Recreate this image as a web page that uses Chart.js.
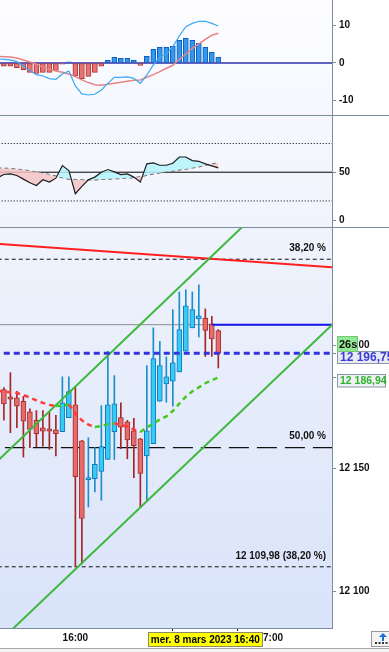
<!DOCTYPE html>
<html>
<head>
<meta charset="utf-8">
<script src="https://cdn.jsdelivr.net/npm/chart.js@4.4.1/dist/chart.umd.min.js"></script>
<style>
  html, body { margin: 0; padding: 0; background: #fff; overflow: hidden; }
  #wrap { position: relative; width: 389px; height: 652px; }
  .pane { position: absolute; left: 0; width: 389px; }
  #p1 { top: 0; height: 115px; }
  #p2 { top: 116px; height: 111px; }
  #p3 { top: 228px; height: 420px; }
  .sep { position: absolute; left: 0; width: 389px; height: 1px; background: #7d8d9c; }
  #foot { position: absolute; left: 0; top: 648px; width: 389px; height: 4px; background: #f3f3f3; border-top: 1px solid #a9a9a9; }
</style>
</head>
<body>
<div id="wrap">
  <div class="pane" id="p1"><canvas id="c1"></canvas></div>
  <div class="sep" style="top:115px"></div>
  <div class="pane" id="p2"><canvas id="c2"></canvas></div>
  <div class="sep" style="top:227px"></div>
  <div class="pane" id="p3"><canvas id="c3"></canvas></div>
  <div id="foot"></div>
</div>
<script>
// 2-minute candles, 8 March 2023
const times = ['15:36','15:38','15:40','15:42','15:44','15:46','15:48','15:50','15:52','15:54',
               '15:56','15:58','16:00','16:02','16:04','16:06','16:08','16:10','16:12','16:14',
               '16:16','16:18','16:20','16:22','16:24','16:26','16:28','16:30','16:32','16:34',
               '16:36','16:38','16:40','16:42','16:44'];
const opens  = [12184.1,12182.0,12179.1,12178.7,12177.2,12173.0,12169.5,12166.5,12166.1,12165.7,
                12164.9,12170.6,12175.8,12161.2,12145.4,12145.8,12148.7,12153.6,12164.9,12170.6,
                12168.9,12165.3,12162.0,12155.0,12160.0,12177.3,12184.3,12185.4,12189.2,12197.6,
                12207.1,12210.7,12211.1,12208.7,12206.0];
const highs  = [12188.5,12182.8,12188.9,12181.3,12179.3,12174.2,12173.5,12173.5,12172.8,12171.5,
                12187.2,12187.2,12183.0,12161.4,12162.4,12158.4,12175.5,12197.6,12187.7,12176.6,
                12169.5,12170.3,12162.2,12191.8,12207.1,12201.6,12195.3,12214.5,12221.7,12222.6,
                12221.7,12224.6,12214.8,12211.8,12206.4];
const lows   = [12175.3,12169.6,12164.5,12166.5,12154.6,12158.4,12158.8,12159.0,12157.7,12155.0,
                12164.9,12170.6,12110.0,12111.1,12134.3,12140.4,12137.0,12153.6,12153.6,12158.0,
                12153.9,12146.2,12134.1,12136.7,12160.0,12177.2,12176.9,12175.3,12189.2,12197.6,
                12207.1,12203.4,12195.5,12195.5,12190.8];
const closes = [12180.0,12176.2,12178.1,12175.3,12169.2,12165.8,12164.1,12165.1,12165.1,12164.1,
                12176.6,12181.2,12146.6,12129.6,12145.7,12151.6,12158.8,12175.8,12176.2,12166.7,
                12161.6,12159.2,12147.9,12165.3,12194.6,12191.8,12187.2,12192.9,12206.4,12216.1,
                12214.5,12212.0,12206.1,12202.6,12196.75];
const movingAvg = [12181.6,12181.1,12180.9,12180.6,12179.8,12178.8,12177.6,12176.6,12175.8,12175.3,
                   12175.5,12176.0,12172.3,12169.5,12167.8,12166.8,12167.2,12167.9,12168.3,12167.6,
                   12167.0,12165.8,12164.8,12166.6,12168.3,12169.8,12171.1,12173.3,12176.3,12179.1,
                   12181.3,12182.9,12184.6,12185.8,12186.94];

// MACD pane
const macdHist   = [-0.8,-0.88,-0.88,-1.24,-1.77,-2.48,-2.74,-2.48,-2.48,-1.95,
                    -0.35,0.27,-3.45,-4.16,-3.54,-2.48,-0.88,0.71,1.5,1.24,
                    1.24,0.71,-0.62,1.77,3.63,4.16,4.16,4.42,6.01,6.54,
                    6.01,5.22,4.16,2.83,1.5];
const macdLine   = [1.1,0.97,0.8,0.35,-0.8,-2.03,-3.1,-3.45,-4.16,-4.33,
                    -2.92,-2.12,-6.1,-8.2,-8.5,-8.3,-7.16,-5.4,-3.8,-3.8,
                    -3.7,-4.07,-5.4,-3.18,-0.53,1.5,2.39,4.33,7.16,9.64,
                    10.5,11.05,11.05,10.5,9.81];
const macdSignal = [1.75,1.68,1.59,1.33,0.8,0.27,-0.35,-1.15,-1.68,-2.12,
                    -2.48,-2.92,-3.63,-4.5,-5.2,-5.75,-5.9,-5.66,-5.4,-5.13,
                    -4.86,-4.6,-4.5,-3.8,-3.1,-2.3,-1.41,-0.62,0.97,2.39,
                    3.89,5.04,6.28,7.34,7.87];

// oscillator pane
const oscLine   = [44.2,47.6,48.3,46.6,42.8,39.0,36.2,42.1,39.7,43.8,
                   56.9,51.8,27.6,35.2,42.1,44.9,50.0,52.8,50.4,47.6,
                   48.3,44.9,39.7,58.7,59.7,57.3,57.3,59.4,65.9,65.9,
                   62.1,61.4,58.7,56.6,54.5];
const oscSignal = [54.2,54.2,53.8,53.1,52.5,51.4,50.4,49.0,47.6,45.9,
                   44.2,42.8,42.4,42.1,42.1,42.1,42.4,42.8,43.1,43.5,
                   43.8,44.5,45.2,46.9,48.3,49.3,50.4,51.4,52.5,53.1,
                   54.5,55.6,57.3,58.7,59.7];
const oscLevels = [20, 80];
const oscMid = 50;

// ticks
const macdTicks  = [-10, 0, 10];
const oscTicks   = [0, 50];
const priceTicks = [12100, 12150, 12200];
const timeTicks  = ['16:00', '17:00'];

// drawings
const fibLevels = [12235.0, 12158.4, 12109.98];
const fibLabels = ['38,20 %', '50,00 %', '12 109,98 (38,20 %)'];
const levelPrice = 12208.4;
const levelFrom = '16:42';
const resistLine = [['15:36', 12241.3], ['17:20', 12231.7]];
const channelUp  = [['15:36', 12152.9], ['16:55', 12252.7]];
const channelLow = [['15:36', 12078.8], ['17:20', 12209.6]];
const lastPrice = 12196.75;
const countdown = '26s';
const cursorTime = '16:40';
const cursorLabel = 'mer. 8 mars 2023 16:40';

const FONT = '"Liberation Sans", Arial, sans-serif';
Chart.defaults.font.family = FONT;
Chart.defaults.font.size = 10;
Chart.defaults.font.weight = 'bold';
Chart.defaults.color = '#111';
Chart.defaults.animation = false;
Chart.defaults.events = [];

const AXIS = '#7d8d9c';
const X_MIN = 936.8, X_MAX = 1039;
const toMin = s => { const p = s.split(':'); return +p[0] * 60 + +p[1]; };
const xs = times.map(toMin);

function fmt(v, dec) {
  const s = dec ? v.toFixed(dec) : String(v);
  const parts = s.split('.');
  return parts[0].replace(/\B(?=(\d{3})+(?!\d))/g, ' ') + (parts[1] ? ',' + parts[1] : '');
}

function hiddenX() {
  return { type: 'linear', min: X_MIN, max: X_MAX, display: false, offset: false };
}
function rightY(min, max, ticks, label) {
  return {
    position: 'right', min: min, max: max,
    grid: { drawOnChartArea: false, tickLength: 4, tickColor: AXIS },
    border: { color: AXIS },
    ticks: { padding: 3, color: '#111', callback: label },
    afterBuildTicks: s => { s.ticks = ticks.map(v => ({ value: v })); },
    afterFit: s => { s.width = 57; s.paddingTop = 0; s.paddingBottom = 0; }
  };
}
function hLine(y, color, width, dash, order, from) {
  return {
    type: 'line', data: [{ x: from == null ? X_MIN - 5 : from, y: y }, { x: X_MAX + 5, y: y }],
    borderColor: color, borderWidth: width, borderDash: dash || [], pointRadius: 0, order: order, clip: 0
  };
}
function segLine(pts, color, width, order) {
  return {
    type: 'line', data: pts.map(p => ({ x: toMin(p[0]), y: p[1] })),
    borderColor: color, borderWidth: width, pointRadius: 0, order: order, clip: 0
  };
}

const bg = {
  id: 'bg',
  beforeDraw(chart, args, o) {
    const { ctx, chartArea: a } = chart;
    const g = ctx.createLinearGradient(0, a.top, 0, a.bottom);
    g.addColorStop(0, o.top);
    g.addColorStop(1, o.bottom);
    ctx.save();
    ctx.fillStyle = g;
    ctx.fillRect(a.left, a.top, a.width, a.height);
    ctx.restore();
  }
};

const baseOpts = (scales, bgTop, bgBottom) => ({
  responsive: false, maintainAspectRatio: false,
  layout: { padding: 0, autoPadding: false },
  plugins: { legend: { display: false }, tooltip: { enabled: false }, bg: { top: bgTop, bottom: bgBottom } },
  scales: scales
});

// ---------- MACD ----------
const c1 = document.getElementById('c1');
c1.width = 389; c1.height = 115;
new Chart(c1, {
  type: 'line',
  data: {
    datasets: [
      { type: 'line', data: xs.map((t, i) => ({ x: t, y: macdLine[i] })), borderColor: '#3aa8f5', borderWidth: 1.2, pointRadius: 0, order: 0, clip: 0 },
      { type: 'line', data: xs.map((t, i) => ({ x: t, y: macdSignal[i] })), borderColor: '#e58585', borderWidth: 1.5, pointRadius: 0, order: 1, clip: 0 },
      { type: 'bar', data: xs.map((t, i) => ({ x: t, y: macdHist[i] })), grouped: false, barThickness: 5,
        backgroundColor: ctx => macdHist[ctx.dataIndex] >= 0 ? '#3497ea' : '#e97373',
        borderColor: ctx => macdHist[ctx.dataIndex] >= 0 ? '#0d5fc0' : '#ad3535',
        borderWidth: 1, borderSkipped: false, order: 2, clip: 0 },
      hLine(0, '#2f2fae', 1.5, null, 3)
    ]
  },
  options: baseOpts({ x: hiddenX(), y: rightY(-13.8, 16.7, macdTicks, v => String(v)) }, '#fdfdff', '#f6f8fe'),
  plugins: [bg]
});

// ---------- oscillator ----------
const c2 = document.getElementById('c2');
c2.width = 389; c2.height = 111;
new Chart(c2, {
  type: 'line',
  data: {
    datasets: [
      { type: 'line', data: xs.map((t, i) => ({ x: t, y: oscLine[i] })), borderColor: '#1e1e1e', borderWidth: 1.2, pointRadius: 0,
        fill: { target: 1, above: 'rgba(180,245,252,0.85)', below: 'rgba(245,196,198,0.85)' }, order: 0, clip: 0 },
      { type: 'line', data: xs.map((t, i) => ({ x: t, y: oscSignal[i] })), borderColor: '#555', borderWidth: 1.2, borderDash: [4, 3], pointRadius: 0, order: 1, clip: 0 },
      hLine(oscMid, '#000', 1, null, 2),
      hLine(oscLevels[0], '#000', 1, [1, 2], 3),
      hLine(oscLevels[1], '#000', 1, [1, 2], 3)
    ]
  },
  options: baseOpts({ x: hiddenX(), y: rightY(-7.2, 108.7, oscTicks, v => String(v)) }, '#f5f7fd', '#f1f4fd'),
  plugins: [bg]
});

// ---------- price ----------
const BULL = '#35cbf3', BULL_B = '#1279bd', BULL_W = '#1b8fc8';
const BEAR = '#e66b6b', BEAR_B = '#a92c2c', BEAR_W = '#a52525';
const isBull = i => closes[i] >= opens[i];

const overlay = {
  id: 'overlay',
  afterDatasetsDraw(chart) {
    const { ctx, scales: { y }, chartArea: a } = chart;
    ctx.save();
    ctx.font = 'bold 10px ' + FONT;
    ctx.fillStyle = '#111';
    ctx.textAlign = 'right';
    ctx.textBaseline = 'middle';
    fibLevels.forEach((lv, i) => ctx.fillText(fibLabels[i], a.right - 6, y.getPixelForValue(lv) - 11));
    ctx.restore();
  },
  afterDraw(chart) {
    const { ctx, scales: { x, y }, chartArea: a } = chart;
    const L = a.right;
    ctx.save();
    ctx.textBaseline = 'middle';
    ctx.textAlign = 'left';
    // ticks for the two price tags
    const py = y.getPixelForValue(lastPrice);
    const my = y.getPixelForValue(movingAvg[movingAvg.length - 1]);
    ctx.strokeStyle = AXIS; ctx.lineWidth = 1;
    [py, my].forEach(v => { ctx.beginPath(); ctx.moveTo(L, Math.round(v) + 0.5); ctx.lineTo(L + 4, Math.round(v) + 0.5); ctx.stroke(); });
    // last price tag
    const pTop = Math.round(py - 2) + 0.5;
    ctx.fillStyle = '#e8ebf6'; ctx.strokeStyle = '#8a97a6';
    ctx.fillRect(L + 5.5, pTop, 60, 12); ctx.strokeRect(L + 5.5, pTop, 60, 12);
    ctx.font = 'bold 12px ' + FONT;
    ctx.fillStyle = '#3b3bd6';
    ctx.fillText(fmt(lastPrice, 2), L + 8, pTop + 6.5);
    // countdown tag
    ctx.fillStyle = '#93e893'; ctx.strokeStyle = '#74c874';
    ctx.fillRect(L + 5.5, pTop - 15, 20, 15); ctx.strokeRect(L + 5.5, pTop - 15, 20, 15);
    ctx.font = 'bold 11px ' + FONT;
    ctx.fillStyle = '#111';
    ctx.fillText(countdown, L + 7, pTop - 7);
    // moving average tag
    const mTop = Math.round(my - 3) + 0.5;
    ctx.fillStyle = '#eff1f5'; ctx.strokeStyle = '#8a97a6';
    ctx.fillRect(L + 5.5, mTop, 48, 12.5); ctx.strokeRect(L + 5.5, mTop, 48, 12.5);
    ctx.font = 'bold 10.5px ' + FONT;
    ctx.fillStyle = '#2fb32f';
    ctx.fillText(fmt(movingAvg[movingAvg.length - 1], 2), L + 8, mTop + 6.5);
    // cursor time tag
    const cx = x.getPixelForValue(toMin(cursorTime));
    ctx.font = 'bold 10px ' + FONT;
    const w = ctx.measureText(cursorLabel).width + 5;
    ctx.fillStyle = '#ffff00'; ctx.strokeStyle = '#8a8a6a';
    ctx.fillRect(Math.round(cx - w / 2) + 0.5, a.bottom + 4.5, w, 14);
    ctx.strokeRect(Math.round(cx - w / 2) + 0.5, a.bottom + 4.5, w, 14);
    ctx.fillStyle = '#000';
    ctx.textAlign = 'center';
    ctx.fillText(cursorLabel, cx, a.bottom + 12);
    // small toolbar button bottom right
    ctx.fillStyle = '#f4f4f4'; ctx.strokeStyle = '#9a9a9a';
    ctx.fillRect(371.5, a.bottom + 3.5, 18, 15); ctx.strokeRect(371.5, a.bottom + 3.5, 18, 15);
    ctx.fillStyle = '#1f6fd0';
    ctx.beginPath(); ctx.moveTo(383, a.bottom + 5); ctx.lineTo(387, a.bottom + 9); ctx.lineTo(379, a.bottom + 9); ctx.closePath(); ctx.fill();
    ctx.fillRect(382, a.bottom + 9, 2, 4);
    ctx.fillStyle = '#333';
    for (let k = 0; k < 4; k++) ctx.fillRect(375 + k * 3.5, a.bottom + 14, 2, 2);
    ctx.restore();
  }
};

const c3 = document.getElementById('c3');
c3.width = 389; c3.height = 420;
new Chart(c3, {
  type: 'line',
  data: {
    datasets: [
      { type: 'line', data: xs.map((t, i) => ({ x: t, y: movingAvg[i] })), borderWidth: 2.5, borderDash: [5, 4], pointRadius: 0,
        borderColor: '#ff3b3b',
        segment: { borderColor: c => c.p1.parsed.y >= c.p0.parsed.y ? '#45c81f' : '#ff3b3b' }, order: 0, clip: 0 },
      hLine(lastPrice, '#3434dc', 3, [6, 4], 1),
      segLine(channelUp, '#3db83d', 2, 2),
      segLine(channelLow, '#3db83d', 2, 2),
      hLine(levelPrice, '#1414f0', 2, null, 3, toMin(levelFrom)),
      segLine(resistLine, '#ff1f1f', 2, 4),
      { type: 'bar', data: xs.map((t, i) => ({ x: t, y: [opens[i], closes[i]] })), grouped: false, barThickness: 5, minBarLength: 2,
        backgroundColor: c => isBull(c.dataIndex) ? BULL : BEAR,
        borderColor: c => isBull(c.dataIndex) ? BULL_B : BEAR_B,
        borderWidth: 1, borderSkipped: false, order: 5, clip: 0 },
      { type: 'bar', data: xs.map((t, i) => ({ x: t, y: [lows[i], highs[i]] })), grouped: false, barThickness: 1,
        backgroundColor: c => isBull(c.dataIndex) ? BULL_W : BEAR_W, borderWidth: 0, order: 6, clip: 0 },
      hLine(levelPrice, '#8c8c8c', 1, null, 7),
      hLine(fibLevels[0], '#111', 1, [4, 3], 8),
      hLine(fibLevels[1], '#111', 1.2, [20, 8], 8, X_MIN + 1.5),
      hLine(fibLevels[2], '#111', 1, [4, 3], 8)
    ]
  },
  options: baseOpts({
    x: {
      type: 'linear', min: X_MIN, max: X_MAX, offset: false,
      grid: { drawOnChartArea: false, tickLength: 3, tickColor: '#222' },
      border: { color: AXIS },
      ticks: { autoSkip: false, maxRotation: 0, padding: 1, color: '#111',
        callback: v => { const s = String(Math.floor(v / 60)) + ':' + String(v % 60).padStart(2, '0'); return timeTicks.includes(s) ? s : ''; } },
      afterBuildTicks: s => { s.ticks = timeTicks.concat([cursorTime]).map(t => ({ value: toMin(t) })); },
      afterFit: s => { s.height = 20; s.paddingLeft = 0; s.paddingRight = 0; }
    },
    y: rightY(12085.1, 12247.7, priceTicks, v => fmt(v))
  }, '#eff3fc', '#d9e3f9'),
  plugins: [bg, overlay]
});
</script>
</body>
</html>
